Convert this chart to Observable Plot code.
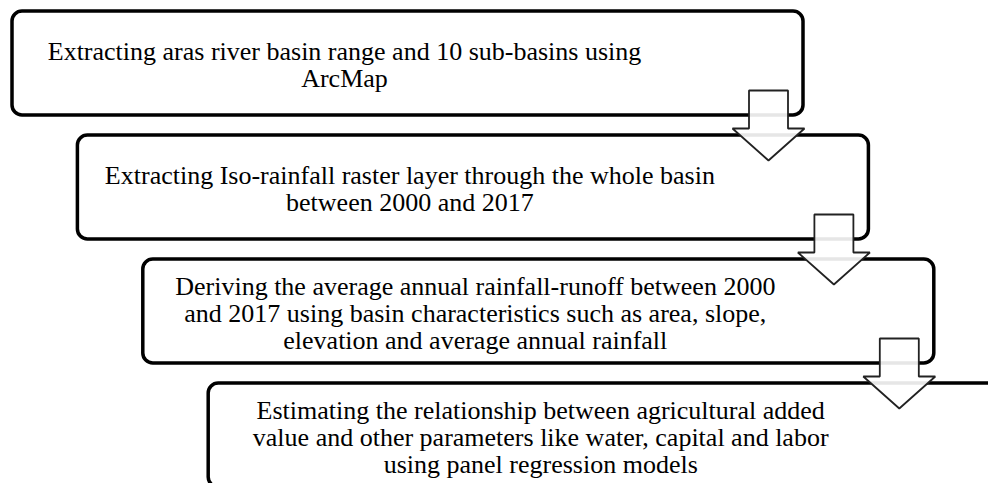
<!DOCTYPE html>
<html>
<head>
<meta charset="utf-8">
<script src="https://cdn.jsdelivr.net/npm/d3@7"></script>
<script src="https://cdn.jsdelivr.net/npm/@observablehq/plot@0.6"></script>
<style>
  html, body { margin: 0; padding: 0; background: #fff; overflow: hidden; }
  #chart svg { display: block; }
</style>
</head>
<body>
<div id="chart"></div>
<script>
// ---- Flowchart content (one array of text lines per step) ----
const step1Lines = [
  "Extracting aras river basin range and 10 sub-basins using",
  "ArcMap"
];
const step2Lines = [
  "Extracting Iso-rainfall raster layer through the whole basin",
  "between 2000 and 2017"
];
const step3Lines = [
  "Deriving the average annual rainfall-runoff between 2000",
  "and 2017 using basin characteristics such as area, slope,",
  "elevation and average annual rainfall"
];
const step4Lines = [
  "Estimating the relationship between agricultural added",
  "value and other parameters like water, capital and labor",
  "using panel regression models"
];
const steps = [step1Lines, step2Lines, step3Lines, step4Lines];

// ---- Layout (staircase of rounded boxes with block arrows) ----
const W = 988, H = 483;
const X0 = 12, Y0 = 11, STEP_X = 65.4, STEP_Y = 124, BOX_W = 791, BOX_H = 104;
const TEXT_DX = 332, LINE_H = 27, FONT = 26;

const boxes = steps.map((lines, i) => {
  const x1 = X0 + STEP_X * i, y1 = Y0 + STEP_Y * i;
  return {i, x1, y1, x2: x1 + BOX_W, y2: y1 + BOX_H};
});

const textRows = steps.flatMap((lines, i) =>
  lines.map((t, k) => ({
    text: t,
    x: boxes[i].x1 + TEXT_DX,
    y: boxes[i].y1 + 62 + (k - (lines.length - 1) / 2) * LINE_H - 0.32 * FONT
  }))
);

const arrows = boxes.slice(0, -1).flatMap((b, i) => {
  const cx = b.x2 - 35;
  const yt = b.y1 + 79, yh = b.y1 + 117, yp = b.y1 + 149;
  const sw = 19.5, hw = 36;
  return [
    [cx - sw, yt], [cx + sw, yt], [cx + sw, yh], [cx + hw, yh],
    [cx, yp], [cx - hw, yh], [cx - sw, yh]
  ].map(([x, y]) => ({i, x, y}));
});

const chart = Plot.plot({
  width: W,
  height: H,
  margin: 0,
  x: {type: "linear", domain: [0, W], range: [0, W], axis: null},
  y: {type: "linear", domain: [0, H], range: [0, H], axis: null},
  style: {background: "white"},
  marks: [
    Plot.rect(boxes, {
      x1: "x1", x2: "x2", y1: "y1", y2: "y2",
      rx: 10, fill: "white", stroke: "black", strokeWidth: 3.5
    }),
    Plot.line(arrows, {
      x: "x", y: "y", z: "i", curve: "linear-closed",
      fill: "white", fillOpacity: 0.9, stroke: "#222", strokeWidth: 1.8,
      strokeLinejoin: "miter"
    }),
    Plot.text(textRows, {
      x: "x", y: "y", text: "text",
      fontFamily: "'Liberation Serif', 'Times New Roman', serif",
      fontSize: FONT, fill: "black", textAnchor: "middle"
    })
  ]
});
document.getElementById("chart").appendChild(chart);
</script>
</body>
</html>
